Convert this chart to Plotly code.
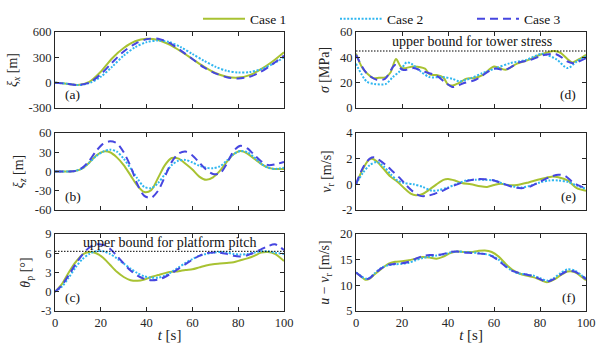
import plotly.graph_objects as go
from plotly.subplots import make_subplots

# ---------------- data ----------------
case_names = ["Case 1", "Case 2", "Case 3"]
case_colors = ["#a8c232", "#2fb6f0", "#4646e0"]
case_dash = ["solid", "2px,1.6px", "8px,5px"]

# (a) surge xi_x [m]
t_a = [0, 5, 10, 15, 20, 25, 30, 35, 40, 45, 50, 55, 60, 65, 70, 75, 80, 85, 90, 95, 100]
a_case1 = [0, -12, -28, 10, 130, 290, 410, 490, 520, 505, 450, 370, 280, 190, 115, 70, 60, 90, 160, 250, 360]
a_case2 = [0, -12, -28, -5, 70, 190, 320, 420, 480, 500, 480, 420, 340, 260, 190, 140, 120, 125, 160, 220, 300]
a_case3 = [0, -12, -28, 0, 100, 240, 370, 460, 515, 520, 470, 380, 280, 180, 110, 65, 50, 70, 130, 220, 320]

# (b) heave xi_z [m]
t_b = [0, 6, 9, 12, 15, 18, 21, 24, 27, 30, 33, 36, 39, 42, 45, 48, 51, 54, 57, 60, 63, 66, 69, 72, 75, 78, 81, 84, 87, 90, 93, 96, 100]
b_case1 = [0, 0, 1, 5, 14, 25, 31, 30, 22, 10, -6, -22, -32, -29, -10, 10, 21, 20, 12, 3, -8, -13, -9, 1, 15, 27, 32, 28, 20, 12, 6, 4, 4]
b_case2 = [0, 0, 1, 5, 14, 24, 31, 34, 31, 20, 5, -11, -24, -26, -18, -4, 10, 17, 18, 14, 9, 6, 5, 8, 17, 27, 32, 30, 22, 12, 6, 4, 6]
b_case3 = [0, 0, 1, 6, 17, 32, 43, 47, 44, 30, 8, -20, -38, -41, -30, -8, 15, 28, 31, 25, 14, 3, -4, -3, 12, 32, 40, 36, 26, 16, 10, 11, 15]

# (c) platform pitch theta_p [deg]
t_c = [0, 3, 6, 9, 12, 15, 18, 21, 24, 27, 30, 33, 36, 39, 42, 45, 48, 51, 54, 57, 60, 63, 66, 69, 72, 75, 78, 81, 84, 87, 90, 93, 96, 100]
c_case1 = [0, 1.2, 3.0, 4.6, 5.8, 6.2, 6.0, 5.3, 4.2, 3.1, 2.3, 1.8, 1.7, 1.9, 2.3, 2.6, 2.9, 3.1, 3.2, 3.4, 3.5, 3.8, 4.1, 4.3, 4.4, 4.5, 4.6, 4.9, 5.2, 5.6, 6.1, 6.2, 5.9, 4.8]
c_case2 = [0, 0.8, 2.2, 3.8, 5.1, 5.9, 6.3, 6.3, 5.9, 5.2, 4.4, 3.6, 2.9, 2.4, 2.2, 2.2, 2.5, 3.1, 3.8, 4.5, 5.1, 5.6, 5.9, 6.1, 6.2, 6.1, 5.9, 5.8, 5.9, 6.1, 6.3, 6.3, 6.1, 5.9]
c_case3 = [0, 1.0, 2.6, 4.3, 5.8, 6.9, 7.4, 7.3, 6.7, 5.6, 4.4, 3.3, 2.5, 2.0, 1.8, 1.9, 2.3, 2.9, 3.6, 4.3, 5.0, 5.6, 6.0, 6.1, 6.1, 5.9, 5.6, 5.5, 5.7, 6.1, 6.6, 7.1, 7.4, 6.5]
pitch_bound = 6.3

# (d) tower stress sigma [MPa]
t_d1 = [0, 3, 7.5, 10, 13, 15, 17.4, 20, 25, 30, 32, 35, 38, 40, 42, 45, 48, 51, 55, 60, 65, 70, 75, 80, 86, 89, 92, 94, 97, 100]
d_case1 = [43, 31, 23.6, 23.8, 24.4, 28, 38.6, 31.5, 32.8, 31, 26.5, 26, 24, 18.5, 17.8, 20, 23.2, 23.5, 26, 32.8, 30.2, 35, 38, 42, 45, 43.5, 38.5, 36, 38.5, 42]
t_d2 = [0, 4.6, 8, 13, 16, 19, 22, 24, 28, 32, 38, 42, 45, 50, 55, 61, 67, 74, 81, 87, 92, 96, 100]
d_case2 = [35, 21, 19, 19, 24.4, 29, 36, 35, 29, 24.4, 24.4, 23, 21, 23.6, 27.5, 31.5, 35.4, 38, 42.8, 38.6, 31.5, 36.7, 40.7]
t_d3 = [0, 4.6, 9, 12.6, 17, 20.6, 25, 29, 35, 39, 42, 47, 52, 60, 65, 71, 76, 81, 87, 92, 94.5, 100]
d_case3 = [42, 27.5, 22.3, 23, 34, 30, 31.5, 29, 25.5, 20, 16.5, 19.7, 22.3, 31, 30.2, 36, 38, 41.5, 42.5, 36.7, 35.4, 39.4]
stress_bound = 45

# (e) relative rotor velocity v_r [m/s]
t_e1 = [0, 3, 5.5, 7, 9, 12, 15, 18, 21, 24, 26, 29, 32, 35, 38, 40, 43, 46, 50, 54, 57, 60, 63, 66, 70, 75, 80, 85, 88, 92, 96, 100]
e_case1 = [0, 1.2, 1.9, 2.0, 1.8, 1.2, 0.6, 0.2, -0.3, -0.75, -0.85, -0.75, -0.4, 0.0, 0.35, 0.42, 0.3, 0.1, 0.0, -0.15, -0.2, -0.05, 0.05, -0.05, -0.05, 0.15, 0.4, 0.6, 0.55, 0.3, -0.3, -0.5]
t_e2 = [0, 3, 6, 9, 12, 15, 18, 21, 25, 29, 33, 36, 40, 44, 48, 52, 56, 60, 64, 68, 72, 76, 80, 84, 88, 92, 96, 100]
e_case2 = [0, 0.9, 1.5, 1.75, 1.4, 0.8, 0.3, 0.1, 0.0, -0.2, -0.5, -0.45, -0.25, 0.05, 0.3, 0.35, 0.35, 0.3, 0.05, -0.15, -0.25, -0.1, 0.15, 0.3, 0.3, 0.2, -0.1, -0.35]
t_e3 = [0, 3, 6, 8, 10, 13, 16, 19, 22, 25, 28, 31, 34, 37, 40, 44, 48, 52, 56, 60, 64, 68, 72, 76, 80, 84, 88, 91, 94, 97, 100]
e_case3 = [0, 1.3, 2.0, 2.1, 1.9, 1.5, 1.0, 0.5, -0.1, -0.6, -0.9, -0.9, -0.75, -0.55, -0.3, 0.0, 0.25, 0.4, 0.4, 0.3, 0.05, -0.2, -0.3, -0.15, 0.2, 0.55, 0.75, 0.65, 0.2, -0.1, -0.3]

# (f) relative wind speed u - v_r [m/s]
t_f = [0, 2, 4, 6, 8, 11, 14, 17, 20, 23, 26, 29, 32, 35, 38, 41, 44, 47, 50, 53, 56, 59, 62, 65, 68, 71, 74, 77, 80, 83, 86, 89, 92, 95, 98, 100]
f_case1 = [12.5, 11.8, 11.1, 11.3, 12.1, 13.2, 14.2, 14.6, 14.7, 14.9, 15.2, 15.5, 15.4, 15.2, 15.6, 16.3, 16.6, 16.5, 16.5, 16.7, 16.8, 16.5, 15.6, 14.2, 13.0, 12.3, 11.9, 11.6, 11.1, 10.6, 11.1, 12.0, 12.7, 12.6, 11.7, 11.0]
f_case2 = [12.5, 11.9, 11.3, 11.5, 12.3, 13.4, 13.9, 14.1, 14.2, 14.4, 14.9, 15.3, 15.6, 15.8, 16.0, 16.4, 16.6, 16.5, 16.4, 16.3, 16.1, 15.8, 15.0, 13.8, 12.8, 12.3, 12.1, 11.9, 11.4, 10.9, 11.4, 12.4, 13.1, 12.9, 12.0, 11.3]
f_case3 = [12.5, 11.8, 11.2, 11.4, 12.2, 13.3, 14.0, 14.2, 14.3, 14.6, 15.2, 15.7, 15.9, 15.9, 16.1, 16.5, 16.6, 16.4, 16.3, 16.2, 16.1, 15.7, 14.8, 13.7, 12.8, 12.4, 12.1, 11.8, 11.2, 10.7, 11.2, 12.1, 12.8, 12.7, 11.9, 11.2]

x_ticks = [0, 20, 40, 60, 80, 100]
a_ticks = [-300, 0, 300, 600]
b_ticks = [-60, -30, 0, 30, 60]
c_ticks = [-3, 0, 3, 6, 9]
d_ticks = [0, 20, 40, 60]
e_ticks = [-2, 0, 2, 4]
f_ticks = [5, 10, 15, 20]

# ---------------- figure ----------------
FONT = "Liberation Serif, Times New Roman, serif"
AXC = "#262626"
TXT = "#111111"

fig = make_subplots(rows=3, cols=2)

panels = [
    (1, 1, [t_a, t_a, t_a], [a_case1, a_case2, a_case3], a_ticks, "<i>ξ</i><sub><i>x</i></sub> [m]", "(a)", "left"),
    (2, 1, [t_b, t_b, t_b], [b_case1, b_case2, b_case3], b_ticks, "<i>ξ</i><sub><i>z</i></sub> [m]", "(b)", "left"),
    (3, 1, [t_c, t_c, t_c], [c_case1, c_case2, c_case3], c_ticks, "<i>θ</i><sub>p</sub> [°]", "(c)", "left"),
    (1, 2, [t_d1, t_d2, t_d3], [d_case1, d_case2, d_case3], d_ticks, "<i>σ</i> [MPa]", "(d)", "right"),
    (2, 2, [t_e1, t_e2, t_e3], [e_case1, e_case2, e_case3], e_ticks, "<i>v</i><sub>r</sub> [m/s]", "(e)", "right"),
    (3, 2, [t_f, t_f, t_f], [f_case1, f_case2, f_case3], f_ticks, "<i>u</i> − <i>v</i><sub>r</sub> [m/s]", "(f)", "right"),
]

W, H = 597, 347
L, R, T, B = 55, 597 - 586, 32, 347 - 311
pw, ph = W - L - R, H - T - B
col_dom = {1: [0, (284 - L) / pw], 2: [(356 - L) / pw, 1]}
row_dom = {1: [(311 - 108) / ph, 1], 2: [(311 - 210) / ph, (311 - 133) / ph], 3: [0, (311 - 234) / ph]}
legend_ids = ["legend", "legend2", "legend3"]

for (r, c, ts, ys, yt, title, lab, side) in panels:
    for k in range(3):
        fig.add_trace(go.Scatter(
            x=ts[k], y=ys[k], mode="lines", name=case_names[k],
            line=dict(color=case_colors[k], dash=case_dash[k], width=2, shape="spline", smoothing=0.8),
            showlegend=(r == 1 and c == 1), legend=legend_ids[k]),
            row=r, col=c)
    fig.update_yaxes(range=[yt[0], yt[-1]], tickvals=yt, ticktext=[str(v) for v in yt],
                     title=dict(text=title, font=dict(size=14, family=FONT, color=AXC), standoff=7),
                     row=r, col=c)
    fig.update_xaxes(range=[0, 100], tickvals=x_ticks, showticklabels=(r == 3),
                     title=dict(text="<i>t</i> [s]" if r == 3 else "", font=dict(size=15, family=FONT, color=AXC), standoff=0),
                     row=r, col=c)
    fig.update_xaxes(domain=col_dom[c], row=r, col=c)
    fig.update_yaxes(domain=row_dom[r], row=r, col=c)

# bound lines
fig.add_trace(go.Scatter(x=[0, 100], y=[pitch_bound, pitch_bound], mode="lines", showlegend=False,
                         line=dict(color="#000000", dash="1.5px,1.5px", width=1)), row=3, col=1)
fig.add_trace(go.Scatter(x=[0, 100], y=[stress_bound, stress_bound], mode="lines", showlegend=False,
                         line=dict(color="#000000", dash="1.5px,1.5px", width=1)), row=1, col=2)

fig.add_annotation(x=50, y=7.75, xref="x5", yref="y5", text="upper bound for platform pitch",
                   showarrow=False, font=dict(size=14, family=FONT, color=TXT))
fig.add_annotation(x=50.5, y=52.2, xref="x2", yref="y2", text="upper bound for tower stress",
                   showarrow=False, font=dict(size=14, family=FONT, color=TXT))

# panel labels
axmap = {(1, 1): "", (1, 2): "2", (2, 1): "3", (2, 2): "4", (3, 1): "5", (3, 2): "6"}
for (r, c, ts, ys, yt, title, lab, side) in panels:
    s = axmap[(r, c)]
    left = side == "left"
    fig.add_annotation(x=0.035 if left else 0.965, y=0.05, xref=f"x{s} domain", yref=f"y{s} domain",
                       text=lab, showarrow=False, xanchor="left" if left else "right", yanchor="bottom",
                       font=dict(size=13.5, family=FONT, color=TXT))

fig.update_xaxes(showline=True, linecolor=AXC, linewidth=1, mirror="ticks", ticks="inside", ticklen=4,
                 tickcolor=AXC, showgrid=False, zeroline=False, automargin=False,
                 tickfont=dict(size=12.5, family=FONT, color=AXC))
fig.update_yaxes(showline=True, linecolor=AXC, linewidth=1, mirror="ticks", ticks="inside", ticklen=4,
                 tickcolor=AXC, showgrid=False, zeroline=False, automargin=False,
                 tickfont=dict(size=12.5, family=FONT, color=AXC))

leg_common = dict(orientation="h", xanchor="left", y=1.047, yanchor="middle", itemwidth=42,
                  font=dict(size=13.5, family=FONT, color=TXT), bgcolor="rgba(0,0,0,0)")
leg_px = [198, 335, 472]
fig.update_layout(
    width=W, height=H,
    margin=dict(l=L, r=R, t=T, b=B, autoexpand=False),
    paper_bgcolor="white", plot_bgcolor="white",
    font=dict(family=FONT, color=AXC),
    legend=dict(x=(leg_px[0] - L) / pw, **leg_common),
    legend2=dict(x=(leg_px[1] - L) / pw, **leg_common),
    legend3=dict(x=(leg_px[2] - L) / pw, **leg_common),
)

# the page's default 8px body margin would push the 597x347 figure out of the window
fig.write_html("out.html", config={"displayModeBar": False},
               post_script="document.body.style.margin='0px';document.documentElement.style.overflow='hidden';")
